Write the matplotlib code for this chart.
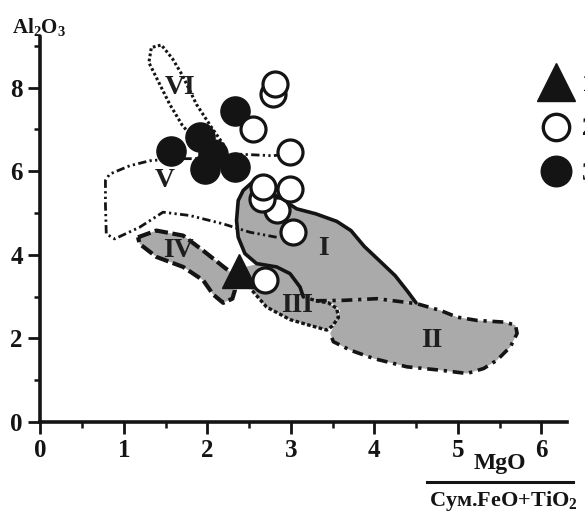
import numpy as np
import matplotlib
matplotlib.use('Agg')
import matplotlib.pyplot as plt
from matplotlib.lines import Line2D

plt.rcParams['font.family'] = ['Liberation Serif', 'DejaVu Serif']
plt.rcParams['font.weight'] = 'bold'
plt.rcParams['mathtext.fontset'] = 'custom'
plt.rcParams['mathtext.rm'] = 'Liberation Serif:bold'
plt.rcParams['mathtext.it'] = 'Liberation Serif:bold'
plt.rcParams['mathtext.bf'] = 'Liberation Serif:bold'
plt.rcParams['mathtext.default'] = 'rm'

INK = '#141414'
GREY = '#aaaaaa'

# точки: 1 - треугольник, 2 - открытые круги, 3 - закрашенные круги
tri_x = [2.38]
tri_y = [3.62]

open_x = [2.79, 2.81, 2.55, 2.99, 2.83, 2.65, 2.67, 2.99, 3.03, 2.69]
open_y = [7.84, 8.08, 7.01, 6.45, 5.06, 5.34, 5.62, 5.58, 4.54, 3.39]

fill_x = [1.57, 1.91, 2.07, 1.97, 2.33, 2.33]
fill_y = [6.49, 6.81, 6.42, 6.05, 6.09, 7.45]

# поля (контуры)
I_x = [3.15, 3.11, 2.99, 2.83, 2.59, 2.45, 2.37, 2.35, 2.37, 2.43, 2.53, 2.62, 2.8, 3.07,
       3.3, 3.55, 3.72, 3.88, 4.05, 4.25, 4.4, 4.5]
I_y = [2.99, 3.23, 3.55, 3.71, 3.79, 4.03, 4.42, 4.82, 5.3, 5.54, 5.72, 5.78, 5.45, 5.1,
       4.98, 4.8, 4.58, 4.2, 3.88, 3.5, 3.12, 2.85]

II_x = [3.3, 3.63, 4.03, 4.35, 4.51, 4.79, 4.99, 5.23, 5.55, 5.69, 5.71, 5.63, 5.47, 5.31,
        5.11, 4.79, 4.39, 3.99, 3.71, 3.51, 3.47]
II_y = [2.9, 2.91, 2.95, 2.87, 2.83, 2.67, 2.51, 2.43, 2.39, 2.32, 2.12, 1.8, 1.48, 1.28,
        1.16, 1.24, 1.32, 1.52, 1.72, 1.92, 2.12]

III_x = [2.48, 2.53, 2.71, 2.99, 3.23, 3.43, 3.5, 3.57, 3.55, 3.45, 3.3, 3.18]
III_y = [3.4, 3.16, 2.75, 2.45, 2.31, 2.2, 2.3, 2.5, 2.72, 2.85, 2.9, 2.98]

IV_x = [1.17, 1.39, 1.71, 1.95, 2.19, 2.3, 2.33, 2.3, 2.19, 2.07, 1.95, 1.71, 1.39, 1.19, 1.17]
IV_y = [4.42, 4.58, 4.46, 4.1, 3.72, 3.55, 3.15, 2.95, 2.85, 3.05, 3.39, 3.71, 3.95, 4.26, 4.42]

V_x = [2.83, 2.51, 2.19, 1.79, 1.47, 1.19, 0.89, 0.79, 0.78, 0.78, 0.83, 1.07, 1.31, 1.6,
       2.1, 2.35, 2.79, 2.9]
V_y = [4.42, 4.54, 4.74, 4.94, 5.02, 4.66, 4.38, 4.5, 5.2, 5.78, 5.93, 6.13, 6.25, 6.3,
       6.3, 6.41, 6.37, 6.4]

VI_x = [2.2, 2.05, 1.87, 1.7, 1.58, 1.45, 1.33, 1.3, 1.4, 1.55, 1.7, 1.85, 2.1]
VI_y = [6.62, 7.05, 7.6, 8.3, 8.7, 9.02, 8.96, 8.6, 8.2, 7.6, 7.1, 6.75, 6.55]

labels = ['I', 'II', 'III', 'IV', 'V', 'VI']
label_x = [3.39, 4.69, 3.07, 1.66, 1.49, 1.67]
label_y = [4.15, 1.96, 2.79, 4.1, 5.78, 8.0]

legend_labels = ['1', '2', '3']

fig = plt.figure(figsize=(5.85, 5.15), dpi=100)
ax = fig.add_axes([0.0689, 0.1806, 0.9007, 0.7483])

# заливка полей
ax.fill(I_x + [4.35, 4.03, 3.63, 3.3], I_y + [2.87, 2.95, 2.91, 2.9], color=GREY, lw=0, zorder=1)
ax.fill(II_x + [3.55, 3.59, 3.51], II_y + [2.43, 2.67, 2.83], color=GREY, lw=0, zorder=1)
ax.fill(III_x + [3.11, 2.99, 2.83, 2.59, 2.47], III_y + [3.23, 3.55, 3.71, 3.77, 3.72],
        color=GREY, lw=0, zorder=1)
ax.fill(IV_x, IV_y, color=GREY, lw=0, zorder=1)

# контуры
ax.plot(I_x, I_y, color=INK, lw=2.6, ls='-', zorder=2, solid_capstyle='round')
ax.plot(II_x, II_y, color=INK, lw=2.6, ls=(0, (3, 1.6, 0.9, 1.6)), zorder=2)
ax.plot(III_x, III_y, color=INK, lw=2.4, ls=(0, (1.1, 0.7)), zorder=2)
ax.plot(IV_x, IV_y, color=INK, lw=3.0, ls=(0, (3.2, 1.1)), zorder=2)
ax.plot(V_x, V_y, color=INK, lw=2.0, ls=(0, (3, 1.2, 0.8, 1.2, 0.8, 1.2)), zorder=2)
ax.plot(VI_x + [VI_x[0]], VI_y + [VI_y[0]], color=INK, lw=2.2, ls=(0, (0.9, 0.8)), zorder=2)

for lab, lx, ly in zip(labels, label_x, label_y):
    ax.text(lx, ly, lab, fontsize=20, color='#1e1e1e', ha='center', va='center', zorder=2.5)

# точки
ax.plot(tri_x, tri_y, ls='none', marker='^', ms=24, color=INK, zorder=3)
ax.plot(fill_x, fill_y, ls='none', marker='o', ms=21, color=INK, zorder=3)
ax.plot(open_x, open_y, ls='none', marker='o', ms=18, mfc='white', mec=INK, mew=2.3, zorder=4)

ax.set_xlim(0, 6.31)
ax.set_ylim(0, 9.22)
for s in ['top', 'right']:
    ax.spines[s].set_visible(False)
for s in ['left', 'bottom']:
    ax.spines[s].set_linewidth(2.6)
    ax.spines[s].set_color(INK)

ax.set_xticks(np.arange(0, 7, 1))
ax.set_xticks(np.arange(0.5, 6.5, 1), minor=True)
ax.set_yticks(np.arange(0, 10, 2))
ax.set_yticks(np.arange(1, 10, 2), minor=True)
ax.tick_params(which='major', length=8.5, width=2.0, color=INK, labelsize=18,
               labelcolor=INK, pad=4)
ax.tick_params(which='minor', length=4, width=1.8, color=INK)

fig.text(12 / 585, 1 - 27 / 515, r'Al$_2$O$_3$', fontsize=15, color=INK, ha='left', va='center')

# подпись оси X в виде дроби
fig.text(500 / 585, 1 - 463 / 515, 'MgO', fontsize=17, color=INK, ha='center', va='center')
fig.add_artist(Line2D([427 / 585, 573 / 585], [1 - 482 / 515, 1 - 482 / 515],
                      color=INK, lw=2.2))
fig.text(503 / 585, 1 - 501 / 515, r'Сум.FeO+TiO$_2$', fontsize=16, color=INK,
         ha='center', va='center')

handles = [
    Line2D([], [], ls='none', marker='^', ms=27, color=INK),
    Line2D([], [], ls='none', marker='o', ms=19, mfc='white', mec=INK, mew=2.4),
    Line2D([], [], ls='none', marker='o', ms=22, color=INK),
]
fig.legend(handles, legend_labels, loc='upper left', bbox_to_anchor=(541 / 585, 1 - 73 / 515),
           frameon=False, fontsize=18, handlelength=1.2, handletextpad=0.44,
           labelspacing=0.85, borderpad=0, borderaxespad=0, labelcolor=INK)

fig.savefig('out.png', dpi=100)
